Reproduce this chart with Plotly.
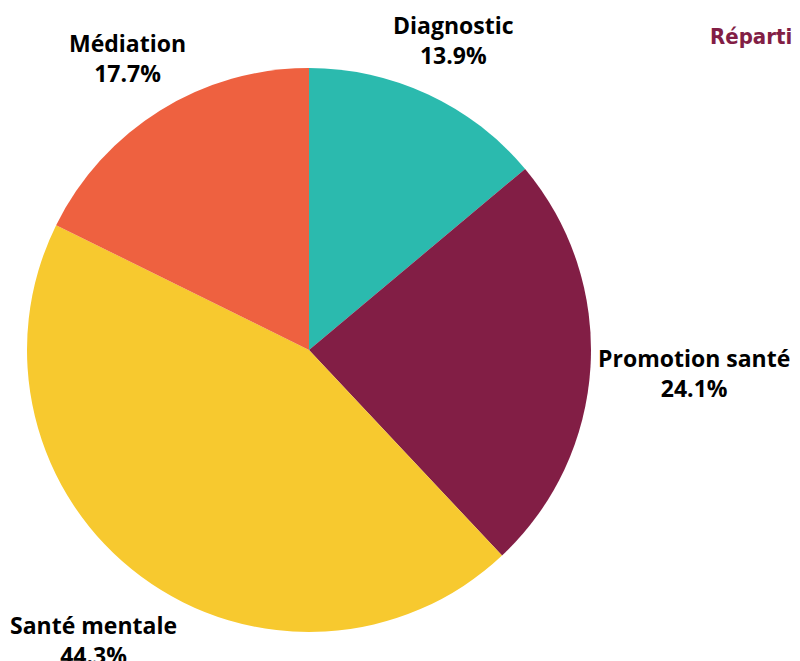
import math
import plotly.graph_objects as go

categories = ["Diagnostic", "Promotion santé", "Santé mentale", "Médiation"]
shares = [13.9, 24.1, 44.3, 17.7]
colors = ["#2bbaae", "#821e45", "#f7c92f", "#ee6140"]

TITLE = "Répartition des actions par thématique"

W, H = 800, 661
DOMAIN_X = [19 / W, 583 / W]
DOMAIN_Y = [37 / H, 601 / H]
LABEL_SIZE = 23
LABEL_GAP = 6  # px between pie edge and label block

fig = go.Figure()
fig.add_trace(go.Pie(
    labels=categories,
    values=shares,
    sort=False,
    direction="clockwise",
    rotation=0,
    marker=dict(colors=colors, line=dict(width=0)),
    textinfo="none",
    hoverinfo="label+percent",
    automargin=False,
    domain=dict(x=DOMAIN_X, y=DOMAIN_Y),
    showlegend=False,
))

# labels outside the pie, centred on each slice's middle angle
# (plotly's own outside labels get pushed off the page on the left)
cx = (DOMAIN_X[0] + DOMAIN_X[1]) / 2 * W
cy = (DOMAIN_Y[0] + DOMAIN_Y[1]) / 2 * H
r = (DOMAIN_X[1] - DOMAIN_X[0]) * W / 2
total = sum(shares)
cum = 0
for name, val in zip(categories, shares):
    mid = (cum + val / 2) / total * 2 * math.pi
    cum += val
    ux, uy = math.sin(mid), math.cos(mid)
    half_w = len(name) * 0.555 * LABEL_SIZE / 2
    half_h = 1.3 * LABEL_SIZE
    dist = r + LABEL_GAP + abs(ux) * half_w + abs(uy) * half_h
    fig.add_annotation(
        text=f"<b>{name}</b><br><b>{val / total * 100:.1f}%</b>",
        x=(cx + ux * dist) / W, y=(cy + uy * dist) / H,
        xref="paper", yref="paper",
        xanchor="center", yanchor="middle",
        align="center", showarrow=False,
        font=dict(family="Open Sans", size=LABEL_SIZE, color="#000000", weight=800),
    )

# title sits partly outside the visible area, as in the source page
fig.add_annotation(
    text=f"<b>{TITLE}</b>",
    x=700 / W, y=1 - 29 / H,
    xref="paper", yref="paper",
    xanchor="left", yanchor="middle",
    showarrow=False,
    font=dict(family="DejaVu Sans Condensed", size=22, color="#821e45"),
)

fig.update_layout(
    width=W, height=H,
    margin=dict(t=0, b=0, l=0, r=0, autoexpand=False),
    paper_bgcolor="white",
    plot_bgcolor="white",
)

fig.write_html("out.html")
